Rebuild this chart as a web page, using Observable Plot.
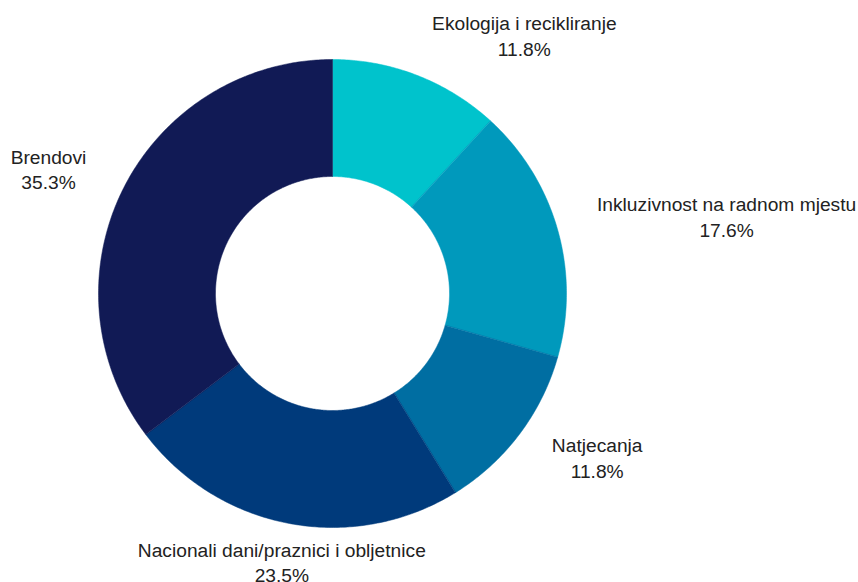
<!DOCTYPE html>
<html>
<head>
<meta charset="utf-8">
<script src="https://cdn.jsdelivr.net/npm/d3@7"></script>
<script src="https://cdn.jsdelivr.net/npm/@observablehq/plot@0.6"></script>
<style>
  html, body { margin: 0; padding: 0; background: #fff; }
  #chart svg { display: block; }
</style>
</head>
<body>
<div id="chart"></div>
<script>
const categories = ["Ekologija i recikliranje", "Inkluzivnost na radnom mjestu", "Natjecanja", "Nacionali dani/praznici i obljetnice", "Brendovi"];
const values = [11.8, 17.6, 11.8, 23.5, 35.3];
const colors = ["#00c3cc", "#0099bc", "#006ea2", "#003a7b", "#111a55"];

const W = 858, H = 582;
const cx = 332, cy = 293, R = 234;
const innerRatio = 0.5;
const labelRatio = 1.175;
const fontSize = 19.2;
const fontFamily = "'Liberation Sans', Arial, sans-serif";

const total = d3.sum(values);
const pie = d3.pie().sort(null).value(d => d)(values);

// build ring polygons in data units (unit radius)
const poly = [];
pie.forEach((p, i) => {
  const steps = Math.max(8, Math.ceil((p.endAngle - p.startAngle) / 0.01));
  for (let k = 0; k <= steps; k++) {
    const a = p.startAngle + (p.endAngle - p.startAngle) * k / steps;
    poly.push({cat: categories[i], x: Math.sin(a), y: Math.cos(a)});
  }
  for (let k = steps; k >= 0; k--) {
    const a = p.startAngle + (p.endAngle - p.startAngle) * k / steps;
    poly.push({cat: categories[i], x: innerRatio * Math.sin(a), y: innerRatio * Math.cos(a)});
  }
});

// labels
const ctx = document.createElement("canvas").getContext("2d");
ctx.font = `${fontSize}px ${fontFamily}`;
const labels = pie.map((p, i) => {
  const mid = (p.startAngle + p.endAngle) / 2;
  const ax = labelRatio * Math.sin(mid), ay = labelRatio * Math.cos(mid);
  const pct = (values[i] / total * 100).toFixed(1) + "%";
  const w = Math.max(ctx.measureText(categories[i]).width, ctx.measureText(pct).width) / R;
  const s = Math.sin(mid);
  const x = Math.abs(s) < 0.25 ? ax : (s > 0 ? ax + w / 2 : ax - w / 2);
  return {x, y: ay, text: categories[i] + "\n" + pct};
});

const chart = Plot.plot({
  width: W, height: H,
  margin: 0,
  x: {domain: [-1, 1], range: [cx - R, cx + R], axis: null},
  y: {domain: [-1, 1], range: [cy + R, cy - R], axis: null},
  color: {domain: categories, range: colors},
  style: {fontFamily, background: "#fff"},
  marks: [
    Plot.line(poly, {x: "x", y: "y", z: "cat", fill: "cat", stroke: "cat", strokeWidth: 0.5, curve: "linear-closed"}),
    Plot.text(labels, {x: "x", y: "y", text: "text", textAnchor: "middle", lineAnchor: "middle", lineHeight: 1.33, dy: -2.5, fontSize, fill: "#222"})
  ]
});
document.getElementById("chart").append(chart);
</script>
</body>
</html>
